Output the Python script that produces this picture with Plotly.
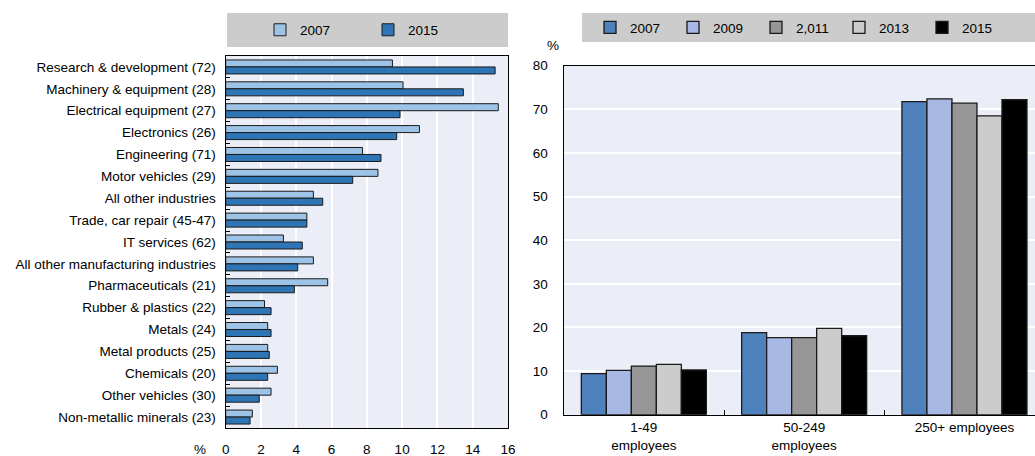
import plotly.graph_objects as go

industries = [
    "Research & development (72)", "Machinery & equipment (28)", "Electrical equipment (27)",
    "Electronics (26)", "Engineering (71)", "Motor vehicles (29)", "All other industries",
    "Trade, car repair (45-47)", "IT services (62)", "All other manufacturing industries",
    "Pharmaceuticals (21)", "Rubber & plastics (22)", "Metals (24)", "Metal products (25)",
    "Chemicals (20)", "Other vehicles (30)", "Non-metallic minerals (23)",
]
ind_2007 = [9.45, 10.05, 15.45, 10.98, 7.75, 8.63, 4.97, 4.6, 3.27, 4.97, 5.78, 2.2, 2.38, 2.38, 2.93, 2.57, 1.51]
ind_2015 = [15.27, 13.47, 9.88, 9.69, 8.8, 7.2, 5.5, 4.6, 4.34, 4.08, 3.89, 2.57, 2.57, 2.47, 2.38, 1.9, 1.38]

sizes = ["1-49<br>employees", "50-249<br>employees", "250+ employees"]
size_years = ["2007", "2009", "2,011", "2013", "2015"]
size_vals = {
    "2007": [9.4, 18.8, 71.75],
    "2009": [10.15, 17.65, 72.4],
    "2,011": [11.15, 17.65, 71.4],
    "2013": [11.55, 19.8, 68.5],
    "2015": [10.25, 18.1, 72.2],
}
size_colors = ["#4F81BD", "#A7B9E3", "#969696", "#CCCCCC", "#000000"]

FONT = "Liberation Sans, Arial, sans-serif"
W, H = 1035, 456

fig = go.Figure()

bw = 0.32
fig.add_trace(go.Bar(y=industries, x=ind_2007, orientation="h", name="2007",
                     marker=dict(color="#9DC3E6", line=dict(color="#1a1a1a", width=1)),
                     width=bw, offset=-bw, xaxis="x", yaxis="y", legend="legend"))
fig.add_trace(go.Bar(y=industries, x=ind_2015, orientation="h", name="2015",
                     marker=dict(color="#2E75B6", line=dict(color="#1a1a1a", width=1)),
                     width=bw, offset=0, xaxis="x", yaxis="y", legend="legend"))

rw = 0.156
for i, (yr, col) in enumerate(zip(size_years, size_colors)):
    fig.add_trace(go.Bar(x=sizes, y=size_vals[yr], name=yr,
                         marker=dict(color=col, line=dict(color="#1a1a1a", width=1.3)),
                         width=rw, offset=-2.5 * rw + i * rw,
                         xaxis="x2", yaxis="y2", legend="legend2"))

def px_x(v):
    return v / W

def px_y(v):
    return 1 - v / H

grid = "#FFFFFF"
bg = "#EBEEF7"

fig.update_layout(
    width=W, height=H, margin=dict(l=0, r=0, t=0, b=0, autoexpand=False),
    paper_bgcolor="white", plot_bgcolor=bg, barmode="overlay",
    font=dict(family=FONT, size=12, color="#000000"),
    xaxis=dict(domain=[px_x(225.7), px_x(508)], range=[0, 16], dtick=2,
               showgrid=True, gridcolor=grid, gridwidth=1.5, zeroline=False,
               showline=True, linecolor="#000000", linewidth=1.3, mirror=True,
               ticks="", tickfont=dict(size=13.5), ticklabelstandoff=9,
               anchor="y", automargin=False),
    yaxis=dict(domain=[px_y(428), px_y(56)], autorange="reversed",
               showgrid=False, showline=True, linecolor="#000000", linewidth=1.3, mirror=True,
               ticks="inside", tickson="boundaries", ticklen=4, tickcolor="#000000",
               tickfont=dict(size=13.5), ticklabelstandoff=6, anchor="x", automargin=False),
    xaxis2=dict(domain=[px_x(563.7), 1.0], range=[-0.5, 2.44],
                showgrid=False, zeroline=False,
                showline=True, linecolor="#000000", linewidth=1.3, mirror=True,
                ticks="inside", tickson="boundaries", ticklen=5, tickcolor="#000000",
                tickfont=dict(size=13.5), anchor="y2", automargin=False),
    yaxis2=dict(domain=[px_y(414.7), px_y(65.7)], range=[0, 80], dtick=10,
                showgrid=True, gridcolor=grid, gridwidth=1.5, zeroline=False,
                showline=True, linecolor="#000000", linewidth=1.3, mirror=True,
                ticks="", tickfont=dict(size=13.5), ticklabelstandoff=12,
                anchor="x2", automargin=False),
    legend=dict(orientation="h", x=px_x(260), y=px_y(30), xanchor="left", yanchor="middle",
                bgcolor="rgba(0,0,0,0)", font=dict(size=13.5), itemwidth=30,
                entrywidth=63, traceorder="normal"),
    legend2=dict(orientation="h", x=px_x(590), y=px_y(27.5), xanchor="left", yanchor="middle",
                 bgcolor="rgba(0,0,0,0)", font=dict(size=13.5), itemwidth=30,
                 entrywidth=38, traceorder="normal"),
    shapes=[
        dict(type="rect", xref="paper", yref="paper", x0=px_x(227), x1=px_x(508),
             y0=px_y(47), y1=px_y(13), fillcolor="#CCCCCC", line=dict(width=0), layer="below"),
        dict(type="rect", xref="paper", yref="paper", x0=px_x(582), x1=1.0,
             y0=px_y(42), y1=px_y(13), fillcolor="#CCCCCC", line=dict(width=0), layer="below"),
    ],
    annotations=[
        dict(text="%", xref="paper", yref="paper", x=px_x(200), y=px_y(449),
             xanchor="center", yanchor="middle", showarrow=False, font=dict(size=13.5)),
        dict(text="%", xref="paper", yref="paper", x=px_x(553), y=px_y(46),
             xanchor="center", yanchor="middle", showarrow=False, font=dict(size=13.5)),
    ],
    showlegend=True,
)

fig.write_html("out.html", config={"displayModeBar": False},
               post_script="document.body.style.margin='0';document.body.style.overflow='hidden';")
